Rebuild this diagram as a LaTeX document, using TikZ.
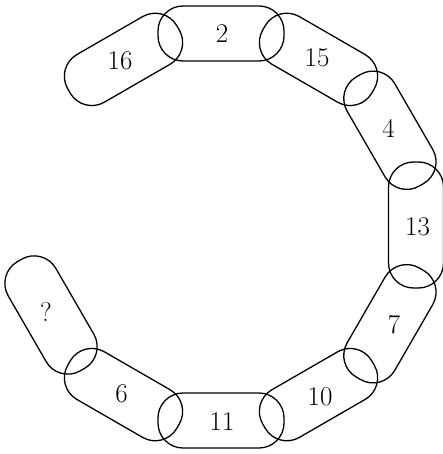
\documentclass[tikz,border=0pt]{standalone}
\begin{document}
\begin{tikzpicture}[x=1pt,y=-1pt,
  pill/.style={draw, line width=1.3pt, rounded corners=25pt, minimum width=126pt, minimum height=55pt, inner sep=0pt},
  lab/.style={font=\fontsize{27}{32}\selectfont, inner sep=0pt}]
\useasboundingbox (0,0) rectangle (443,454);
\node[pill, rotate=30]  (p16) at (123.5,59.4) {};
\node[pill]             (p2)  at (221,33.5) {};
\node[pill, rotate=-30] (p15) at (318.5,59.4) {};
\node[pill, rotate=-60] (p4)  at (389.9,130.25) {};
\node[pill, rotate=90]  (p13) at (416,225) {};
\node[pill, rotate=60]  (p7)  at (389.9,323.75) {};
\node[pill, rotate=30]  (p10) at (318.5,394.6) {};
\node[pill]             (p11) at (221,420.5) {};
\node[pill, rotate=-30] (p6)  at (123.5,394.6) {};
\node[pill, rotate=-60] (pq)  at (51,315) {};
\node[lab] (t16) at (120,61) {16};
\node[lab] (t2)  at (222,34)  {2};
\node[lab] (t15) at (317,58) {15};
\node[lab] (t4)  at (388.5,128)  {4};
\node[lab] (t13) at (417.5,227) {13};
\node[lab] (t7)  at (394,325)  {7};
\node[lab] (t10) at (320,396.5) {10};
\node[lab] (t11) at (222,421.5) {11};
\node[lab] (t6)  at (121.5,393.5)  {6};
\node[lab] (tq)  at (46,312.5)  {?};
\end{tikzpicture}
\end{document}
